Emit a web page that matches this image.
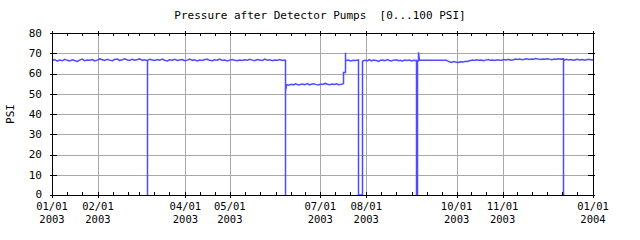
<!DOCTYPE html>
<html>
<head>
<meta charset="utf-8">
<script src="https://cdn.jsdelivr.net/npm/d3@7"></script>
<style>
  body { margin: 0; background: #fff; }
  text { font-family: "DejaVu Sans Mono", monospace; font-size: 11px; fill: #000; white-space: pre; }
  text.day, text.year { font-size: 10.5px; }
</style>
</head>
<body>
<div id="chart"></div>
<script>
// Data
let title = "Pressure after Detector Pumps  [0...100 PSI]";
let yTicks = [0, 10, 20, 30, 40, 50, 60, 70, 80];
let labeledMonths = ["2003-01-01", "2003-02-01", "2003-04-01", "2003-05-01", "2003-07-01",
  "2003-08-01", "2003-10-01", "2003-11-01", "2004-01-01"];

// noisy stretches of readings, spread evenly between start and end
let seg1 = [66.4, 66.9, 66.1, 66.7, 66.3, 67.0, 66.5, 66.2, 66.8, 66.4,
  66.0, 66.6, 67.1, 66.3, 66.7, 66.5, 66.9, 66.2, 66.6, 67.2,
  66.8, 66.4, 67.0, 66.6, 66.3, 66.9, 67.1, 66.5, 66.8, 67.3,
  66.7, 66.4, 67.0, 66.6, 66.9, 67.2, 66.5, 66.8, 66.3, 67.0,
  66.7, 66.4, 66.9, 66.6, 67.1, 66.5, 66.2, 66.8, 66.6, 67.0,
  66.4, 66.7, 66.9, 66.3, 66.6, 67.1, 66.5, 66.8, 66.2, 66.7,
  66.4, 66.9, 67.0, 66.5, 66.3, 66.8, 66.6, 67.1, 66.4, 66.7,
  66.2, 66.6, 66.9, 66.5, 66.3, 66.7, 66.4, 66.8, 66.5, 67.0,
  66.6, 66.3, 66.9, 66.7, 66.4, 67.1, 66.6, 66.8, 66.3, 66.7,
  66.5, 66.9, 66.4, 66.6];
let seg2 = [54.5, 54.2, 54.7, 54.4, 54.9, 54.3, 54.6, 54.8, 54.5, 55.0,
  54.4, 54.7, 54.9, 54.5, 54.3, 54.8, 54.6, 55.1, 54.7, 54.4,
  54.8, 54.6, 54.9, 54.5, 54.7, 55.0];
let seg3 = [66.3, 66.6, 66.2, 66.5, 66.4, 66.7];
let seg4 = [66.1, 66.5, 66.3, 66.8, 66.2, 66.6, 66.4, 66.0, 66.5, 66.7,
  66.3, 66.9, 66.4, 66.2, 66.6, 66.8, 66.3, 66.5, 66.1, 66.7,
  66.4, 66.6, 66.2, 66.5, 66.4];
let seg5 = [66.2, 65.8, 65.5, 65.9, 65.6, 65.4, 65.8, 65.7, 66.0, 65.9,
  66.3, 66.6, 66.4, 66.8, 66.5, 66.7, 66.3, 66.6, 66.9, 66.5,
  66.7, 66.4, 66.8, 66.6, 66.5, 66.9, 66.7, 67.0, 66.6, 66.8,
  67.1, 66.9, 67.2, 66.8, 67.0, 67.3, 66.9, 67.1, 67.0, 67.4,
  67.1, 66.9, 67.2, 67.0, 67.3, 67.1, 66.8, 67.2, 67.0, 67.3, 67.1, 67.2];
let seg6 = [66.6, 67.0, 66.7, 66.9, 66.5, 66.8, 67.0, 66.7, 66.9, 66.6,
  66.8, 67.0, 66.7, 66.9];

let segments = [
  ["2003-01-01 00:00", "2003-06-06 18:00", seg1],
  ["2003-06-08 00:00", "2003-07-16 06:00", seg2],
  ["2003-07-18 00:00", "2003-07-26 06:00", seg3],
  ["2003-07-29 06:00", "2003-09-03 08:00", seg4],
  ["2003-09-24 06:00", "2003-12-11 12:00", seg5],
  ["2003-12-12 06:00", "2003-12-31 23:00", seg6],
];

// drops, spikes and the flat gap (same time = vertical step)
let events = [
  ["2003-03-06 03:00", 66.7], ["2003-03-06 03:00", 0], ["2003-03-06 03:00", 66.5],
  ["2003-06-07 02:00", 66.5], ["2003-06-07 02:00", 0], ["2003-06-07 02:00", 54.8],
  ["2003-06-07 12:00", 51.2], ["2003-06-07 18:00", 54.4],
  ["2003-07-16 12:00", 54.7], ["2003-07-16 12:00", 60.5], ["2003-07-17 12:00", 60.5],
  ["2003-07-17 12:00", 70.3], ["2003-07-17 20:00", 66.4],
  ["2003-07-26 12:00", 66.5], ["2003-07-26 12:00", 0], ["2003-07-28 23:00", 0],
  ["2003-07-28 23:00", 66.3],
  ["2003-09-03 14:00", 66.4], ["2003-09-03 14:00", 0], ["2003-09-04 06:00", 0],
  ["2003-09-04 06:00", 66.3], ["2003-09-05 04:00", 66.3], ["2003-09-05 05:00", 70.5],
  ["2003-09-05 14:00", 66.5], ["2003-09-24 00:00", 66.5],
  ["2003-12-11 19:00", 67.1], ["2003-12-11 19:00", 0], ["2003-12-11 19:00", 66.8],
];

// Process data
let parse = d3.timeParse("%Y-%m-%d %H:%M");
let readings = [];
segments.forEach(([s, e, values]) => {
  let t0 = parse(s).getTime();
  let t1 = parse(e).getTime();
  values.forEach((v, i) => {
    readings.push({ date: new Date(t0 + ((t1 - t0) * i) / (values.length - 1)), value: v });
  });
});
events.forEach(([d, v]) => readings.push({ date: parse(d), value: v }));
readings.sort((a, b) => a.date - b.date);

// Set up dimensions
let width = 640;
let height = 240;
let margin = { top: 33, right: 47, bottom: 45, left: 52 };

// Set up scales
let xScale = d3
  .scaleTime()
  .domain([new Date(2003, 0, 1), new Date(2004, 0, 1)])
  .range([margin.left, width - margin.right]);

let yScale = d3
  .scaleLinear()
  .domain([0, 80])
  .range([height - margin.bottom, margin.top]);

let x0 = margin.left;
let x1 = width - margin.right;
let y0 = height - margin.bottom;
let y1 = margin.top;
let px = (v) => Math.round(v) + 0.5;

let labeled = labeledMonths.map((d) => parse(d + " 00:00"));
let labeledSet = new Set(labeled.map((d) => +d));

const svg = d3
  .select("#chart")
  .append("svg")
  .attr("width", width)
  .attr("height", height);

// Draw title
svg
  .append("text")
  .attr("x", width / 2)
  .attr("y", 19)
  .attr("text-anchor", "middle")
  .attr("xml:space", "preserve")
  .text(title);

// Draw grid
const grid = svg.append("g").attr("shape-rendering", "crispEdges").attr("stroke", "#a8a8a8");
grid
  .selectAll("line.h")
  .data(yTicks.slice(1, -1))
  .join("line")
  .attr("class", "h")
  .attr("x1", x0)
  .attr("x2", x1)
  .attr("y1", (d) => px(yScale(d)))
  .attr("y2", (d) => px(yScale(d)));
grid
  .selectAll("line.v")
  .data(labeled.slice(1, -1))
  .join("line")
  .attr("class", "v")
  .attr("x1", (d) => px(xScale(d)))
  .attr("x2", (d) => px(xScale(d)))
  .attr("y1", y0)
  .attr("y2", y1);

// Draw data line
let line = d3
  .line()
  .x((d) => px(xScale(d.date)))
  .y((d) => yScale(d.value));

svg
  .append("path")
  .datum(readings)
  .attr("fill", "none")
  .attr("stroke", "#4d4dff")
  .attr("stroke-width", 1.5)
  .attr("d", line);

// Draw ticks
let tickDates = [];
d3.timeMonth.range(new Date(2003, 0, 1), new Date(2004, 0, 2)).forEach((m) => {
  tickDates.push(m);
  if (m.getFullYear() === 2003) {
    tickDates.push(d3.timeDay.offset(m, 10));
    tickDates.push(d3.timeDay.offset(m, 20));
  }
});

const ticks = svg.append("g").attr("stroke", "#000").attr("shape-rendering", "crispEdges");
ticks
  .selectAll("line.xb")
  .data(tickDates)
  .join("line")
  .attr("class", "xb")
  .attr("x1", (d) => px(xScale(d)))
  .attr("x2", (d) => px(xScale(d)))
  .attr("y1", (d) => (labeledSet.has(+d) ? y0 + 3 : y0))
  .attr("y2", y0 - 3);
ticks
  .selectAll("line.xt")
  .data(tickDates)
  .join("line")
  .attr("class", "xt")
  .attr("x1", (d) => px(xScale(d)))
  .attr("x2", (d) => px(xScale(d)))
  .attr("y1", (d) => (labeledSet.has(+d) ? y1 - 2 : y1))
  .attr("y2", y1 + 3);
ticks
  .selectAll("line.yl")
  .data(yTicks)
  .join("line")
  .attr("class", "yl")
  .attr("x1", x0 - 2)
  .attr("x2", x0 + 5)
  .attr("y1", (d) => px(yScale(d)))
  .attr("y2", (d) => px(yScale(d)));
ticks
  .selectAll("line.yr")
  .data(yTicks)
  .join("line")
  .attr("class", "yr")
  .attr("x1", x1 - 5)
  .attr("x2", x1 + 2)
  .attr("y1", (d) => px(yScale(d)))
  .attr("y2", (d) => px(yScale(d)));

// Draw frame
svg
  .append("rect")
  .attr("x", x0 + 0.5)
  .attr("y", y1 + 0.5)
  .attr("width", x1 - x0)
  .attr("height", y0 - y1)
  .attr("fill", "none")
  .attr("stroke", "#000")
  .attr("shape-rendering", "crispEdges");

// Draw y labels
svg
  .append("g")
  .selectAll("text")
  .data(yTicks)
  .join("text")
  .attr("x", 42)
  .attr("y", (d) => yScale(d) - (d === 0 ? 1 : 0))
  .attr("dy", "0.35em")
  .attr("text-anchor", "end")
  .text((d) => d);

// Draw y axis title
svg
  .append("text")
  .attr("transform", `translate(14,${(y0 + y1) / 2}) rotate(-90)`)
  .attr("text-anchor", "middle")
  .text("PSI");

// Draw x labels (date line and year line)
let fmtDay = d3.timeFormat("%m/%d");
let fmtYear = d3.timeFormat("%Y");
const xLabels = svg.append("g").attr("text-anchor", "middle");
xLabels
  .selectAll("text.day")
  .data(labeled)
  .join("text")
  .attr("class", "day")
  .attr("x", (d) => xScale(d))
  .attr("y", 210)
  .text(fmtDay);
xLabels
  .selectAll("text.year")
  .data(labeled)
  .join("text")
  .attr("class", "year")
  .attr("x", (d) => xScale(d))
  .attr("y", 223)
  .text(fmtYear);
</script>
</body>
</html>
